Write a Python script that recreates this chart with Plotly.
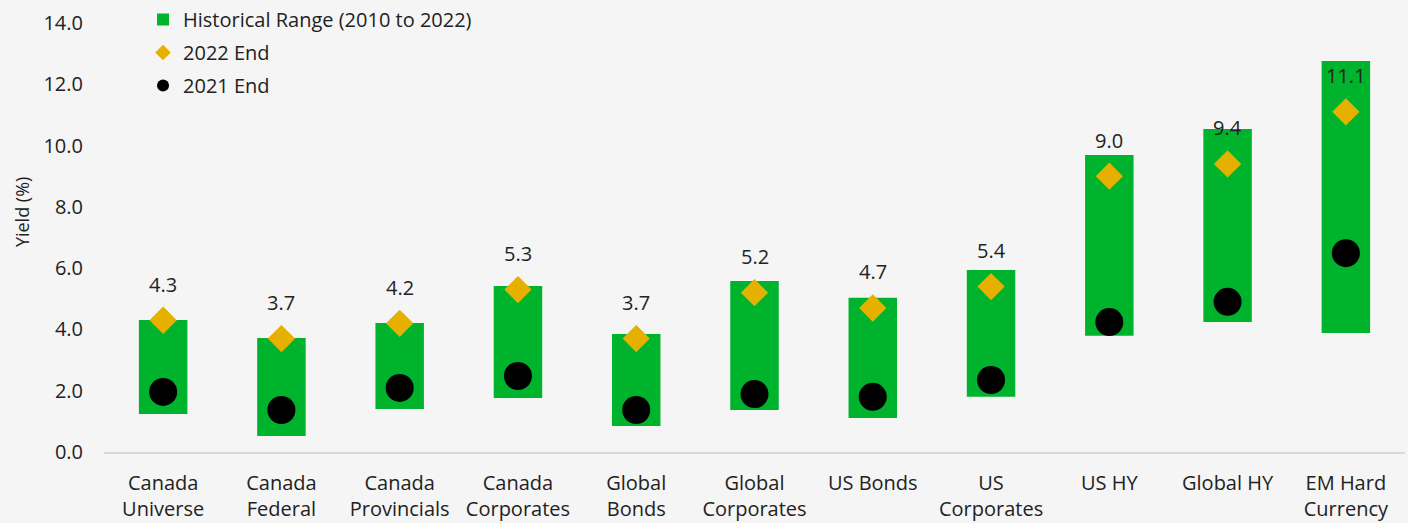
import plotly.graph_objects as go

categories = ["Canada<br>Universe", "Canada<br>Federal", "Canada<br>Provincials", "Canada<br>Corporates",
              "Global<br>Bonds", "Global<br>Corporates", "US Bonds", "US<br>Corporates",
              "US HY", "Global HY", "EM Hard<br>Currency"]
range_low = [1.24, 0.52, 1.40, 1.76, 0.85, 1.37, 1.11, 1.80, 3.79, 4.24, 3.88]
range_high = [4.31, 3.72, 4.21, 5.42, 3.85, 5.58, 5.03, 5.94, 9.69, 10.54, 12.76]
end_2022 = [4.3, 3.7, 4.2, 5.3, 3.7, 5.2, 4.7, 5.4, 9.0, 9.4, 11.1]
end_2021 = [1.96, 1.37, 2.09, 2.48, 1.37, 1.89, 1.80, 2.35, 4.24, 4.90, 6.49]
y_ticks = [0, 2, 4, 6, 8, 10, 12, 14]

GREEN = "#00b32c"
GOLD = "#e6b000"
FONT = "Open Sans"
TXT = "#222222"
FS = 20

# plot area extends above the 14.0 tick so the legend sits inside it
TOP_PAD_PX = 23
Y_PX_PER_UNIT = 429 / 14
y_top = 14 + TOP_PAD_PX / Y_PX_PER_UNIT

fig = go.Figure()
fig.add_trace(go.Bar(
    x=categories, y=[h - l for h, l in zip(range_high, range_low)], base=range_low,
    width=0.41, marker=dict(color=GREEN, line=dict(width=0)),
    name="Historical Range (2010 to 2022)", legendgroup="a"))
fig.add_trace(go.Scatter(
    x=categories, y=end_2022, mode="markers",
    marker=dict(symbol="diamond", size=21, color=GOLD),
    name="2022 End", legendgroup="b"))
fig.add_trace(go.Scatter(
    x=categories, y=end_2021, mode="markers",
    marker=dict(symbol="circle", size=28, color="#000000"),
    name="2021 End", legendgroup="c"))

for c, v in zip(categories, end_2022):
    fig.add_annotation(x=c, y=v, text=f"{v:.1f}", showarrow=False, yshift=36,
                       font=dict(family=FONT, size=FS, color=TXT))

fig.add_annotation(xref="paper", yref="y", x=-0.063, y=7.83, xanchor="center", yanchor="middle",
                   text="Yield (%)", textangle=-90, showarrow=False,
                   font=dict(family=FONT, size=18, color=TXT))

fig.update_layout(
    width=1408, height=523,
    paper_bgcolor="#f5f5f5", plot_bgcolor="#f5f5f5",
    margin=dict(l=104, r=3, t=23 - TOP_PAD_PX, b=71),
    font=dict(family=FONT, size=FS, color=TXT),
    showlegend=True,
    legend=dict(x=0.03, y=1.0, xanchor="left", yanchor="top",
                bgcolor="rgba(0,0,0,0)", font=dict(size=FS), tracegroupgap=4,
                itemsizing="constant"),
    bargap=0.59,
    xaxis=dict(range=[-0.5, 10.5], showgrid=False, showline=True, linecolor="#d9d9d9", linewidth=2,
               ticks="", tickfont=dict(size=FS), ticklabelstandoff=12, automargin=False),
    yaxis=dict(range=[0, y_top], tickvals=y_ticks, tickformat=".1f", showgrid=False, zeroline=False,
               showline=False, ticks="", tickfont=dict(size=FS), ticklabelstandoff=20,
               automargin=False),
)

fig.write_html("out.html")
